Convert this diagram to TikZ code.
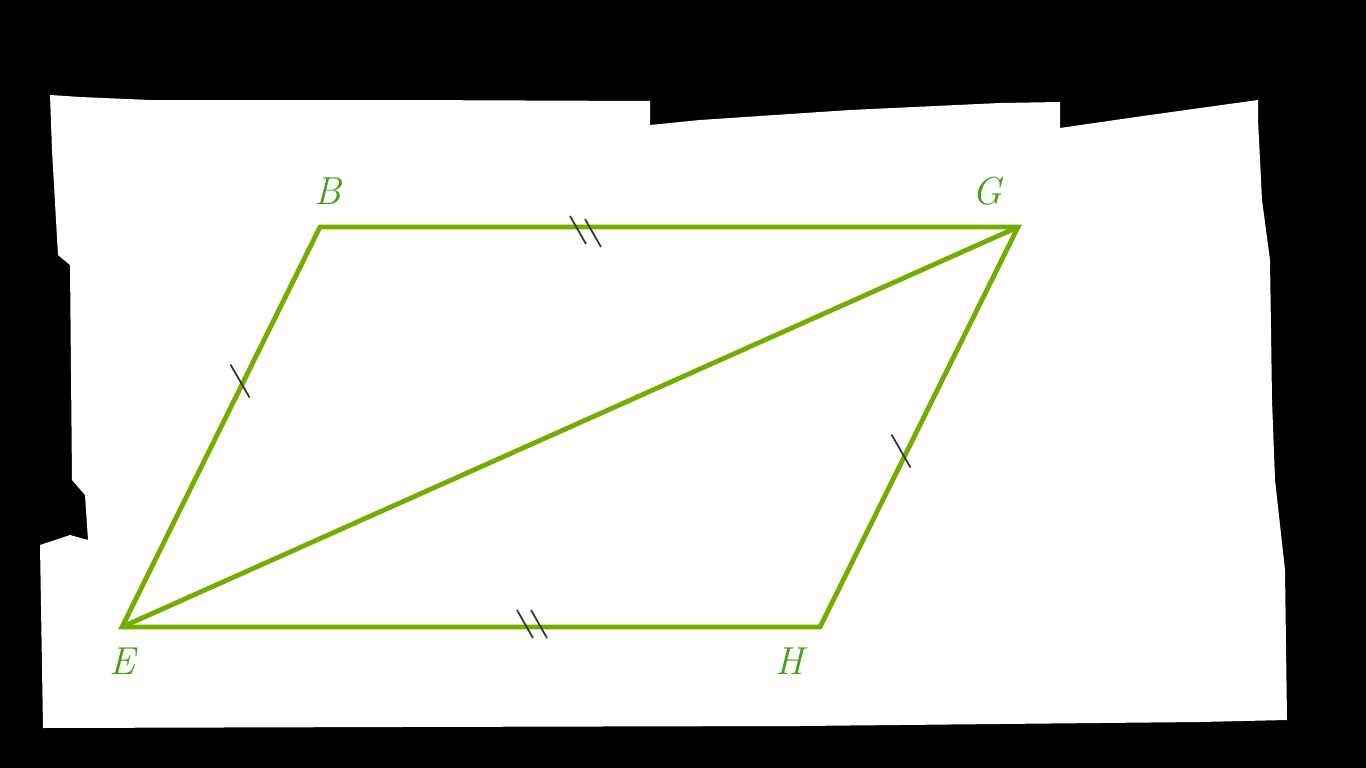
\documentclass[tikz,border=0pt]{standalone}
\usepackage{tikz}
\definecolor{geoline}{RGB}{118,172,0}
\definecolor{geolabel}{RGB}{70,160,20}
\definecolor{tickc}{RGB}{50,50,50}
\begin{document}
\begin{tikzpicture}[x=1pt,y=-1pt,
  side/.style={draw=geoline,line width=4.8pt,line join=miter},
  tickmark/.style={draw=tickc,line width=1.7pt},
  lbl/.style={text=geolabel,font=\fontsize{39}{41}\selectfont\itshape,inner sep=0pt}]
\useasboundingbox (0,0) rectangle (1366,768);
\fill[black] (0,0) rectangle (1366,768);
\fill[white] (50,95) -- (80,97) -- (150,100) -- (400,100) -- (650,101) -- (650,125)
  -- (700,120) -- (850,110) -- (1000,103) -- (1060,102) -- (1060,128) -- (1150,115)
  -- (1258,100) -- (1258,120) -- (1262,200) -- (1270,260) -- (1272,400) -- (1275,480)
  -- (1285,570) -- (1287,720) -- (1200,722) -- (800,726) -- (400,727) -- (43,728)
  -- (40,545) -- (70,535) -- (88,540) -- (85,495) -- (72,480) -- (70,265) -- (58,255)
  -- (52,150) -- cycle;
\coordinate (B) at (320,227);
\coordinate (G) at (1018,227);
\coordinate (H) at (820,627);
\coordinate (E) at (122,627);
\draw[side] (E) -- (B) -- (G) -- (H) -- cycle;
\draw[side] (E) -- (G);
% tick marks
\draw[tickmark] (240,381) ++(-9.5,-16.5) -- ++(19,33);
\draw[tickmark] (901,451) ++(-9.5,-16.5) -- ++(19,33);
\draw[tickmark] (578,230) ++(-8,-14) -- ++(16,28);
\draw[tickmark] (593,233) ++(-8,-14) -- ++(16,28);
\draw[tickmark] (525,624) ++(-8,-14) -- ++(16,28);
\draw[tickmark] (539,624) ++(-8,-14) -- ++(16,28);
% labels
\node[lbl] (lB) at (328,191) {B};
\node[lbl] (lG) at (987,191) {G};
\node[lbl] (lE) at (122,661) {E};
\node[lbl] (lH) at (790,661) {H};
\end{tikzpicture}
\end{document}
